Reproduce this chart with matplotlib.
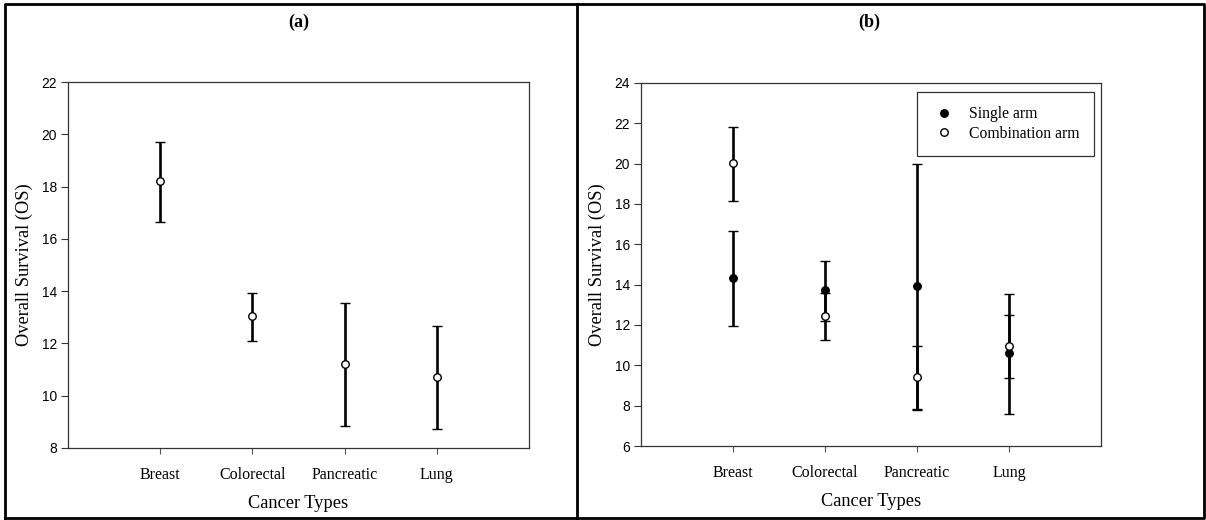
import matplotlib
matplotlib.use("Agg")
import matplotlib.pyplot as plt
from matplotlib.lines import Line2D

# Overall survival (months) per cancer type, with 95% CI bounds
cancers = ["Breast", "Colorectal", "Pancreatic", "Lung"]

# (a) pooled
os_all = [18.21, 13.05, 11.20, 10.72]
lo_all = [16.66, 12.11, 8.83, 8.72]
hi_all = [19.72, 13.91, 13.56, 12.67]

# (b) by treatment arm
os_single = [14.35, 13.72, 13.92, 10.60]
lo_single = [11.96, 12.21, 7.79, 7.59]
hi_single = [16.68, 15.17, 20.00, 13.53]

os_combo = [20.04, 12.44, 9.40, 10.97]
lo_combo = [18.15, 11.25, 7.82, 9.36]
hi_combo = [21.83, 13.60, 10.94, 12.51]

SERIF = "Liberation Serif"
SANS = "Liberation Sans"


def errs(v, lo, hi):
    return [[a - b for a, b in zip(v, lo)], [c - a for a, c in zip(v, hi)]]


def style_axes(ax, ylim, yticks):
    xs = range(1, len(cancers) + 1)
    ax.set_xlim(0, 5)
    ax.set_ylim(*ylim)
    ax.set_yticks(yticks)
    ax.set_yticklabels([str(t) for t in yticks], fontfamily=SANS, fontsize=9.9)
    ax.set_xticks(list(xs))
    ax.set_xticklabels(cancers, fontfamily=SERIF, fontsize=11.5)
    ax.tick_params(axis="x", length=4, width=0.8, color="#555555", pad=10)
    ax.tick_params(axis="y", length=5, width=0.8, color="#333333", pad=3)
    for s in ax.spines.values():
        s.set_linewidth(0.9)
        s.set_color("#333333")
    ax.set_xlabel("Cancer Types", fontfamily=SERIF, fontsize=13.2, labelpad=8)
    ax.set_ylabel("Overall Survival (OS)", fontfamily=SERIF, fontsize=13.2, labelpad=6)


fig = plt.figure(figsize=(12.06, 5.20), dpi=100)

eb = dict(fmt="o", color="black", ecolor="black", elinewidth=1.9,
          capsize=3.9, capthick=1.6, markersize=5.4, markeredgewidth=1.0)

# panel (a)
ax1 = fig.add_axes([0.0564, 0.1385, 0.3823, 0.7038])
ax1.errorbar(range(1, 5), os_all, yerr=errs(os_all, lo_all, hi_all),
             markerfacecolor="white", markeredgecolor="black", **eb)
style_axes(ax1, (8, 22), list(range(8, 23, 2)))
fig.text(0.2476, 0.957, "(a)", ha="center", va="center",
         fontfamily=SERIF, fontsize=13, fontweight="bold")

# panel (b)
ax2 = fig.add_axes([0.5315, 0.1423, 0.3814, 0.6981])
ax2.errorbar(range(1, 5), os_single, yerr=errs(os_single, lo_single, hi_single),
             markerfacecolor="black", markeredgecolor="black",
             label="Single arm", **eb)
ax2.errorbar(range(1, 5), os_combo, yerr=errs(os_combo, lo_combo, hi_combo),
             markerfacecolor="white", markeredgecolor="black",
             label="Combination arm", **eb)
style_axes(ax2, (6, 24), list(range(6, 25, 2)))
fig.text(0.7210, 0.957, "(b)", ha="center", va="center",
         fontfamily=SERIF, fontsize=13, fontweight="bold")

handles = [
    Line2D([], [], ls="none", marker="o", markersize=5.4, markerfacecolor="black",
           markeredgecolor="black"),
    Line2D([], [], ls="none", marker="o", markersize=5.4, markerfacecolor="white",
           markeredgecolor="black"),
]
leg = ax2.legend(handles, ["Single arm", "Combination arm"],
                 loc="upper right", bbox_to_anchor=(0.9069, 0.8225),
                 bbox_transform=fig.transFigure, borderaxespad=0,
                 prop={"family": SERIF, "size": 11.3}, frameon=True,
                 fancybox=False, borderpad=0.9, handlelength=1.7,
                 handletextpad=0.73, labelspacing=0.2)
leg.get_frame().set_edgecolor("black")
leg.get_frame().set_linewidth(0.9)

# outer frame and divider between the panels
frame_kw = dict(transform=fig.transFigure, color="black", linewidth=2.0)
W, H = 1206.0, 520.0
x0, x1, y0, y1 = 5 / W, 1204 / W, 1 - 518 / H, 1 - 4 / H
fig.add_artist(Line2D([x0, x1, x1, x0, x0], [y0, y0, y1, y1, y0], **frame_kw))
fig.add_artist(Line2D([577 / W, 577 / W], [y0, y1], **frame_kw))

fig.savefig("out.png", dpi=100)
